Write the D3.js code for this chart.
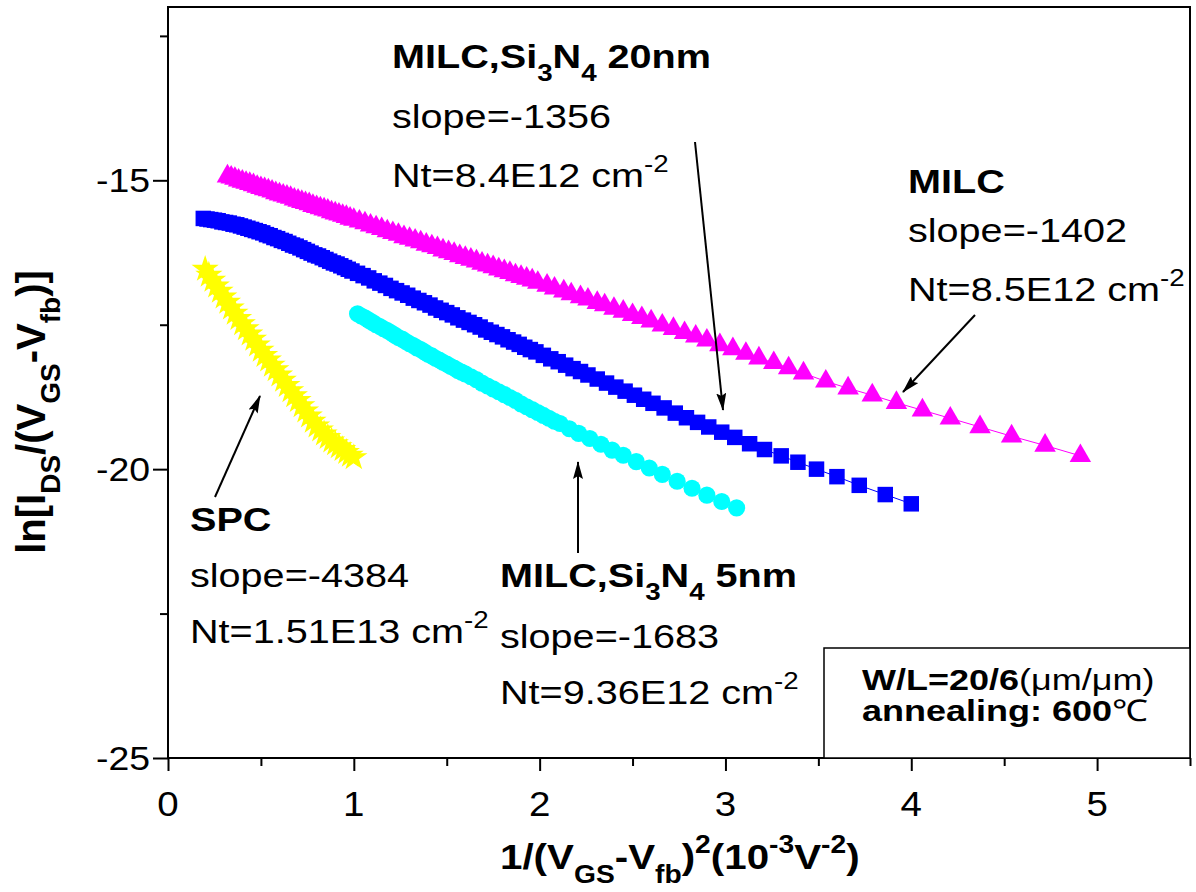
<!DOCTYPE html>
<html lang="en">
<head>
<meta charset="utf-8">
<title>ln[IDS/(VGS-Vfb)] vs 1/(VGS-Vfb)^2</title>
<script src="https://d3js.org/d3.v7.min.js"></script>
<style>
body { margin: 0; background: #fff; }
svg text { font-family: "Liberation Sans", Arial, sans-serif; fill: #000; }
</style>
</head>
<body>
<div id="chart"></div>
<script>

// MILC (magenta triangles)
var milcX = [0.32, 0.34, 0.36, 0.38, 0.40, 0.42, 0.44, 0.46, 0.48, 0.50, 0.52, 0.54, 0.56, 0.58, 0.60, 0.62,
  0.64, 0.66, 0.68, 0.70, 0.72, 0.74, 0.76, 0.78, 0.80, 0.82, 0.84, 0.86, 0.88, 0.90, 0.92, 0.94, 0.96, 0.98,
  1.00, 1.03, 1.06, 1.09, 1.12, 1.15, 1.18, 1.21, 1.24, 1.27, 1.30, 1.33, 1.36, 1.39, 1.42, 1.45, 1.48, 1.51,
  1.54, 1.57, 1.60, 1.63, 1.66, 1.69, 1.72, 1.75, 1.78, 1.81, 1.84, 1.87, 1.90, 1.93, 1.96, 1.99, 2.04, 2.08,
  2.13, 2.17, 2.22, 2.26, 2.31, 2.35, 2.40, 2.45, 2.50, 2.55, 2.60, 2.66, 2.72, 2.78, 2.84, 2.90, 2.97, 3.04,
  3.11, 3.18, 3.26, 3.34, 3.42, 3.54, 3.66, 3.79, 3.92, 4.06, 4.21, 4.37, 4.54, 4.72, 4.91];
var milcY = [-14.93, -14.95, -14.97, -15.00, -15.02, -15.04, -15.06, -15.08, -15.11, -15.13, -15.15, -15.17,
  -15.19, -15.22, -15.24, -15.26, -15.28, -15.30, -15.33, -15.35, -15.37, -15.39, -15.41, -15.44, -15.46, -15.48,
  -15.50, -15.52, -15.55, -15.57, -15.59, -15.61, -15.63, -15.66, -15.68, -15.71, -15.74, -15.78, -15.81, -15.84,
  -15.88, -15.91, -15.94, -15.98, -16.01, -16.04, -16.07, -16.11, -16.14, -16.17, -16.21, -16.24, -16.27, -16.31,
  -16.34, -16.37, -16.40, -16.44, -16.47, -16.50, -16.54, -16.57, -16.60, -16.64, -16.67, -16.70, -16.73, -16.77,
  -16.82, -16.87, -16.92, -16.97, -17.02, -17.06, -17.12, -17.16, -17.22, -17.27, -17.33, -17.38, -17.44, -17.51,
  -17.57, -17.64, -17.70, -17.77, -17.85, -17.92, -18.00, -18.08, -18.16, -18.25, -18.34, -18.48, -18.60, -18.72,
  -18.85, -18.98, -19.12, -19.27, -19.43, -19.59, -19.77];

// MILC, Si3N4 20nm (blue squares)
var n20X = [0.19, 0.21, 0.23, 0.25, 0.27, 0.29, 0.31, 0.33, 0.35, 0.37, 0.39, 0.41, 0.43, 0.45, 0.47, 0.49,
  0.51, 0.53, 0.55, 0.57, 0.59, 0.61, 0.63, 0.65, 0.67, 0.69, 0.71, 0.73, 0.75, 0.77, 0.79, 0.81, 0.83, 0.85,
  0.87, 0.89, 0.91, 0.93, 0.95, 0.97, 0.99, 1.02, 1.05, 1.08, 1.11, 1.14, 1.17, 1.20, 1.23, 1.26, 1.29, 1.32,
  1.35, 1.38, 1.41, 1.44, 1.47, 1.50, 1.53, 1.56, 1.59, 1.62, 1.65, 1.68, 1.71, 1.74, 1.77, 1.80, 1.83, 1.86,
  1.89, 1.92, 1.95, 1.98, 2.02, 2.06, 2.10, 2.14, 2.18, 2.22, 2.26, 2.31, 2.36, 2.41, 2.46, 2.51, 2.56, 2.61,
  2.67, 2.73, 2.79, 2.85, 2.91, 2.98, 3.05, 3.13, 3.21, 3.30, 3.39, 3.49, 3.60, 3.72, 3.86, 4.00];
var n20Y = [-15.66, -15.67, -15.68, -15.69, -15.70, -15.72, -15.73, -15.74, -15.76, -15.77, -15.79, -15.81,
  -15.83, -15.85, -15.87, -15.89, -15.91, -15.94, -15.96, -15.99, -16.01, -16.04, -16.06, -16.09, -16.12, -16.14,
  -16.17, -16.20, -16.23, -16.26, -16.29, -16.31, -16.34, -16.37, -16.40, -16.43, -16.45, -16.48, -16.51, -16.54,
  -16.57, -16.61, -16.65, -16.69, -16.74, -16.78, -16.82, -16.87, -16.91, -16.95, -16.99, -17.04, -17.08, -17.12,
  -17.16, -17.21, -17.25, -17.29, -17.33, -17.38, -17.42, -17.46, -17.50, -17.54, -17.59, -17.63, -17.67, -17.71,
  -17.76, -17.80, -17.84, -17.89, -17.93, -17.97, -18.03, -18.09, -18.14, -18.20, -18.26, -18.31, -18.37, -18.44,
  -18.51, -18.58, -18.65, -18.72, -18.79, -18.86, -18.94, -19.03, -19.11, -19.19, -19.27, -19.36, -19.45, -19.56,
  -19.66, -19.77, -19.88, -20.00, -20.13, -20.28, -20.44, -20.60];

// MILC, Si3N4 5nm (cyan circles)
var n5X = [1.02, 1.04, 1.06, 1.08, 1.10, 1.12, 1.14, 1.16, 1.18, 1.20, 1.22, 1.24, 1.26, 1.28, 1.30, 1.32,
  1.34, 1.36, 1.38, 1.40, 1.42, 1.44, 1.46, 1.48, 1.50, 1.52, 1.54, 1.56, 1.58, 1.60, 1.63, 1.66, 1.69, 1.72,
  1.75, 1.78, 1.81, 1.84, 1.87, 1.90, 1.93, 1.96, 1.99, 2.02, 2.05, 2.08, 2.11, 2.16, 2.21, 2.27, 2.33, 2.39,
  2.45, 2.52, 2.59, 2.66, 2.74, 2.82, 2.90, 2.98, 3.06];
var n5Y = [-17.31, -17.35, -17.38, -17.42, -17.46, -17.50, -17.53, -17.57, -17.60, -17.64, -17.68, -17.72,
  -17.75, -17.79, -17.83, -17.86, -17.90, -17.93, -17.97, -18.01, -18.04, -18.08, -18.11, -18.15, -18.18, -18.22,
  -18.25, -18.29, -18.32, -18.35, -18.40, -18.45, -18.51, -18.56, -18.61, -18.66, -18.71, -18.76, -18.81, -18.87,
  -18.92, -18.97, -19.02, -19.07, -19.12, -19.17, -19.21, -19.30, -19.38, -19.47, -19.57, -19.67, -19.76, -19.87,
  -19.98, -20.09, -20.21, -20.33, -20.45, -20.56, -20.67];

// SPC (yellow stars)
var spcX = [0.20, 0.22, 0.24, 0.26, 0.28, 0.30, 0.32, 0.34, 0.36, 0.38, 0.40, 0.42, 0.44, 0.46, 0.48, 0.50,
  0.52, 0.54, 0.56, 0.58, 0.60, 0.62, 0.64, 0.66, 0.68, 0.70, 0.72, 0.74, 0.76, 0.78, 0.80, 0.82, 0.84, 0.86,
  0.88, 0.90, 0.92, 0.94, 0.96, 0.98, 1.00];
var spcY = [-16.54, -16.64, -16.73, -16.83, -16.92, -17.02, -17.11, -17.21, -17.30, -17.39, -17.48, -17.57,
  -17.66, -17.75, -17.85, -17.94, -18.03, -18.11, -18.20, -18.28, -18.37, -18.46, -18.55, -18.64, -18.73, -18.81,
  -18.90, -18.99, -19.08, -19.17, -19.25, -19.32, -19.39, -19.45, -19.51, -19.56, -19.61, -19.66, -19.71, -19.76,
  -19.80];

var xTicks = [0, 1, 2, 3, 4, 5];
var xMinor = [0.5, 1.5, 2.5, 3.5, 4.5, 5.5];
var yTicks = [-25, -20, -15];
var yMinor = [-22.5, -17.5, -12.5];

var W = 1196, H = 892;
var SX = 1.2;   // the original lettering is wider than Arial

var svg = d3.select("#chart").append("svg")
    .attr("width", W)
    .attr("height", H);

var x = d3.scaleLinear().domain([0, 5.5]).range([168, 1190]);
var y = d3.scaleLinear().domain([-25, -12]).range([758, 7]);

// text with bold/normal parts and sub/superscripts
// segs: [text, bold, "sub"|"sup"|""]
function rich(px, py, segs, size, anchor, rotate, sx) {
  var tr = "translate(" + px + "," + py + ")" + (rotate ? " rotate(-90)" : " scale(" + (sx || SX) + ",1)");
  var t = svg.append("text")
      .attr("transform", tr)
      .attr("font-size", size)
      .attr("text-anchor", anchor || "start");
  var shift = 0;
  segs.forEach(function(s) {
    var pos = s[2] || "";
    var target = pos == "sub" ? size * 0.38 : (pos == "sup" ? -size * 0.45 : 0);
    var ts = t.append("tspan")
        .text(s[0])
        .attr("dy", target - shift)
        .attr("font-weight", s[1] ? "bold" : "normal");
    if (pos) ts.attr("font-size", size * 0.7);
    shift = target;
  });
  return t;
}

// axes: ticks only, frame drawn separately
svg.append("g").attr("transform", "translate(168,0)")
    .call(d3.axisLeft(y).tickValues(yTicks).tickSize(15).tickFormat(""));
svg.append("g").attr("transform", "translate(168,0)")
    .call(d3.axisLeft(y).tickValues(yMinor).tickSize(8).tickFormat(""));
svg.append("g").attr("transform", "translate(0,758)")
    .call(d3.axisBottom(x).tickValues(xTicks).tickSize(13).tickFormat(""));
svg.append("g").attr("transform", "translate(0,758)")
    .call(d3.axisBottom(x).tickValues(xMinor).tickSize(8).tickFormat(""));
svg.selectAll(".domain").remove();
svg.selectAll(".tick line").attr("stroke", "#000").attr("stroke-width", 2);

svg.append("rect")
    .attr("x", x(0)).attr("y", y(-12))
    .attr("width", x(5.5) - x(0)).attr("height", y(-25) - y(-12))
    .attr("fill", "none").attr("stroke", "#000").attr("stroke-width", 2);

// tick labels
yTicks.forEach(function(v) {
  rich(150, y(v) + 12, [[String(v), false]], 34, "end", false, 1.1);
});
xTicks.forEach(function(v) {
  rich(x(v), 816, [[String(v), false]], 35, "middle", false, 1.1);
});

// axis titles
rich(500, 869, [["1/(V", true], ["GS", true, "sub"], ["-V", true], ["fb", true, "sub"], [")", true],
  ["2", true, "sup"], ["(10", true], ["-3", true, "sup"], ["V", true], ["-2", true, "sup"], [")", true]], 36, "start", false, 1.12);
rich(45, 412, [["ln[I", true], ["DS", true, "sub"], ["/(V", true], ["GS", true, "sub"], ["-V", true],
  ["fb", true, "sub"], [")]", true]], 40, "middle", true);

// series
var series = [
  { xs: milcX, ys: milcY, color: "#ff00ff", sym: d3.symbolTriangle, size: 200 },
  { xs: n20X, ys: n20Y, color: "#0000ff", sym: d3.symbolSquare, size: 240 },
  { xs: n5X, ys: n5Y, color: "#00ffff", sym: d3.symbolCircle, size: 230 },
  { xs: spcX, ys: spcY, color: "#ffff00", sym: d3.symbolStar, size: 230 }
];

series.forEach(function(s) {
  var pts = s.xs.map(function(v, i) { return [v, s.ys[i]]; });
  svg.append("path")
      .datum(pts)
      .attr("fill", "none")
      .attr("stroke", s.color)
      .attr("stroke-width", 1)
      .attr("d", d3.line().x(function(d) { return x(d[0]); }).y(function(d) { return y(d[1]); }));
  svg.append("g").selectAll("path")
      .data(pts)
      .enter().append("path")
      .attr("transform", function(d) { return "translate(" + x(d[0]) + "," + y(d[1]) + ")"; })
      .attr("d", d3.symbol().type(s.sym).size(s.size))
      .attr("fill", s.color);
});

// legend box
svg.append("rect")
    .attr("x", 824).attr("y", 648)
    .attr("width", x(5.5) - 824).attr("height", y(-25) - 648)
    .attr("fill", "#fff").attr("stroke", "#000").attr("stroke-width", 1.5);
rich(862, 690, [["W/L=20/6", true], ["(\u03bcm/\u03bcm)", false]], 30);
rich(862, 721, [["annealing: 600", true], ["\u2103", false]], 30);

// annotations
var anno = [
  [392, 68, [["MILC,Si", true], ["3", true, "sub"], ["N", true], ["4", true, "sub"], [" 20nm", true]]],
  [392, 128, [["slope=-1356", false]]],
  [392, 187, [["Nt=8.4E12 cm", false], ["-2", false, "sup"]]],
  [908, 193, [["MILC", true]]],
  [908, 242, [["slope=-1402", false]]],
  [908, 301, [["Nt=8.5E12 cm", false], ["-2", false, "sup"]]],
  [190, 531, [["SPC", true]]],
  [190, 587, [["slope=-4384", false]]],
  [190, 643, [["Nt=1.51E13 cm", false], ["-2", false, "sup"]]],
  [500, 587, [["MILC,Si", true], ["3", true, "sub"], ["N", true], ["4", true, "sub"], [" 5nm", true]]],
  [500, 648, [["slope=-1683", false]]],
  [500, 704, [["Nt=9.36E12 cm", false], ["-2", false, "sup"]]]
];
anno.forEach(function(a) { rich(a[0], a[1], a[2], 33); });

// arrows
svg.append("defs").append("marker")
    .attr("id", "head")
    .attr("viewBox", "0 0 18 10")
    .attr("refX", 17).attr("refY", 5)
    .attr("markerWidth", 18).attr("markerHeight", 10)
    .attr("markerUnits", "userSpaceOnUse")
    .attr("orient", "auto")
  .append("path")
    .attr("d", "M0,0 L18,5 L0,10 L3,5 Z")
    .attr("fill", "#000");

var arrows = [
  [215, 497, 260, 396],
  [695, 142, 723, 410],
  [578, 553, 578, 462],
  [975, 315, 903, 392]
];
arrows.forEach(function(a) {
  svg.append("line")
      .attr("x1", a[0]).attr("y1", a[1])
      .attr("x2", a[2]).attr("y2", a[3])
      .attr("stroke", "#000")
      .attr("stroke-width", 2)
      .attr("marker-end", "url(#head)");
});

</script>
</body>
</html>
